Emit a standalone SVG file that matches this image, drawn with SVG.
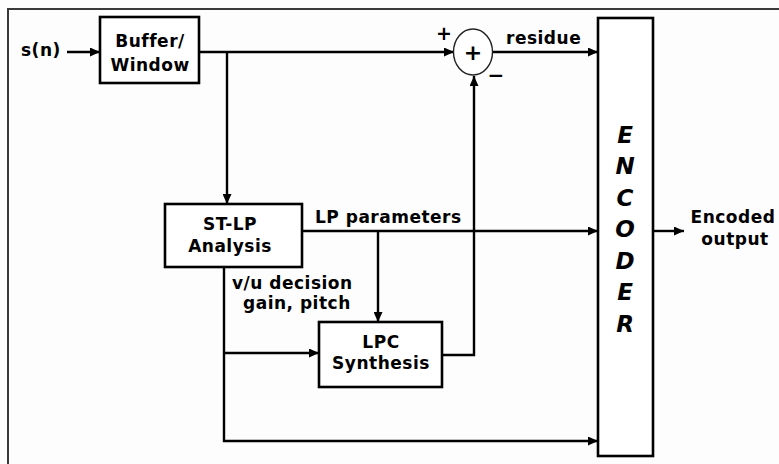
<svg xmlns="http://www.w3.org/2000/svg" width="779" height="464" viewBox="0 0 779 464">
<style>
.bg{fill:#fdfdfd}
.frame{fill:none;stroke:#3a3a3a;stroke-width:2}
.box{fill:#ffffff;stroke:#000;stroke-width:2.6}
.sum{fill:#ffffff;stroke:#222;stroke-width:1.4}
.wire{fill:none;stroke:#000;stroke-width:2.4}
.t{font-family:"DejaVu Sans",Verdana,sans-serif;font-weight:bold;font-size:17px;fill:#000;letter-spacing:0.5px}
.m{text-anchor:middle}
.enc{font-family:"DejaVu Sans",Verdana,sans-serif;font-weight:bold;font-style:italic;font-size:23px;fill:#000;text-anchor:middle}
</style>
<defs>
<marker id="ah" markerUnits="userSpaceOnUse" markerWidth="10" markerHeight="9" refX="10" refY="4.5" orient="auto">
<path d="M0,0 L10,4.5 L0,9 z" fill="#000"/>
</marker>
</defs>
<rect class="bg" x="0" y="0" width="779" height="464"/>
<path class="frame" d="M8,464 L8,9 L779,9"/>

<g id="connectors">
<line class="wire" x1="67" y1="52" x2="100" y2="52" marker-end="url(#ah)"/>
<line class="wire" x1="199" y1="52" x2="454" y2="52" marker-end="url(#ah)"/>
<line class="wire" x1="227" y1="52" x2="227" y2="204" marker-end="url(#ah)"/>
<line class="wire" x1="493" y1="52" x2="598" y2="52" marker-end="url(#ah)"/>
<line class="wire" x1="302" y1="231" x2="598" y2="231" marker-end="url(#ah)"/>
<line class="wire" x1="378" y1="231" x2="378" y2="322" marker-end="url(#ah)"/>
<polyline class="wire" points="224,267 224,441 598,441" marker-end="url(#ah)"/>
<line class="wire" x1="224" y1="353" x2="319" y2="353" marker-end="url(#ah)"/>
<polyline class="wire" points="442,355 474,355 474,76" marker-end="url(#ah)"/>
<line class="wire" x1="653" y1="231" x2="684" y2="231" marker-end="url(#ah)"/>
</g>

<g id="input">
<text class="t" x="21" y="56">s(n)</text>
</g>

<g id="buffer">
<rect class="box" x="100" y="17" width="99" height="66"/>
<text class="t m" x="150" y="47">Buffer/</text>
<text class="t m" x="150" y="71">Window</text>
</g>

<g id="sum">
<ellipse class="sum" cx="473" cy="52" rx="19.5" ry="23"/>
<text class="t m" x="473" y="60" style="font-size:22px;letter-spacing:0">+</text>
<text class="t m" x="444" y="40" style="font-size:19px;letter-spacing:0">+</text>
<text class="t m" x="496" y="82" style="font-size:20px;letter-spacing:0">−</text>
</g>

<g id="stlp">
<rect class="box" x="165" y="204" width="137" height="63"/>
<text class="t m" x="230" y="230">ST-LP</text>
<text class="t m" x="230" y="252">Analysis</text>
</g>

<g id="lpc">
<rect class="box" x="319" y="322" width="123" height="65"/>
<text class="t m" x="381" y="348">LPC</text>
<text class="t m" x="381" y="369">Synthesis</text>
</g>

<g id="encoder">
<rect class="box" x="598" y="18" width="55" height="438"/>
<text class="enc" x="625" y="143">E</text>
<text class="enc" x="625" y="174">N</text>
<text class="enc" x="625" y="206">C</text>
<text class="enc" x="625" y="237">O</text>
<text class="enc" x="625" y="269">D</text>
<text class="enc" x="625" y="300">E</text>
<text class="enc" x="625" y="332">R</text>
</g>

<g id="labels">
<text class="t" x="506" y="44">residue</text>
<text class="t" x="315" y="223">LP parameters</text>
<text class="t" x="232" y="289">v/u decision</text>
<text class="t" x="243" y="309">gain, pitch</text>
<text class="t m" x="733" y="223">Encoded</text>
<text class="t m" x="735" y="245">output</text>
</g>
</svg>
